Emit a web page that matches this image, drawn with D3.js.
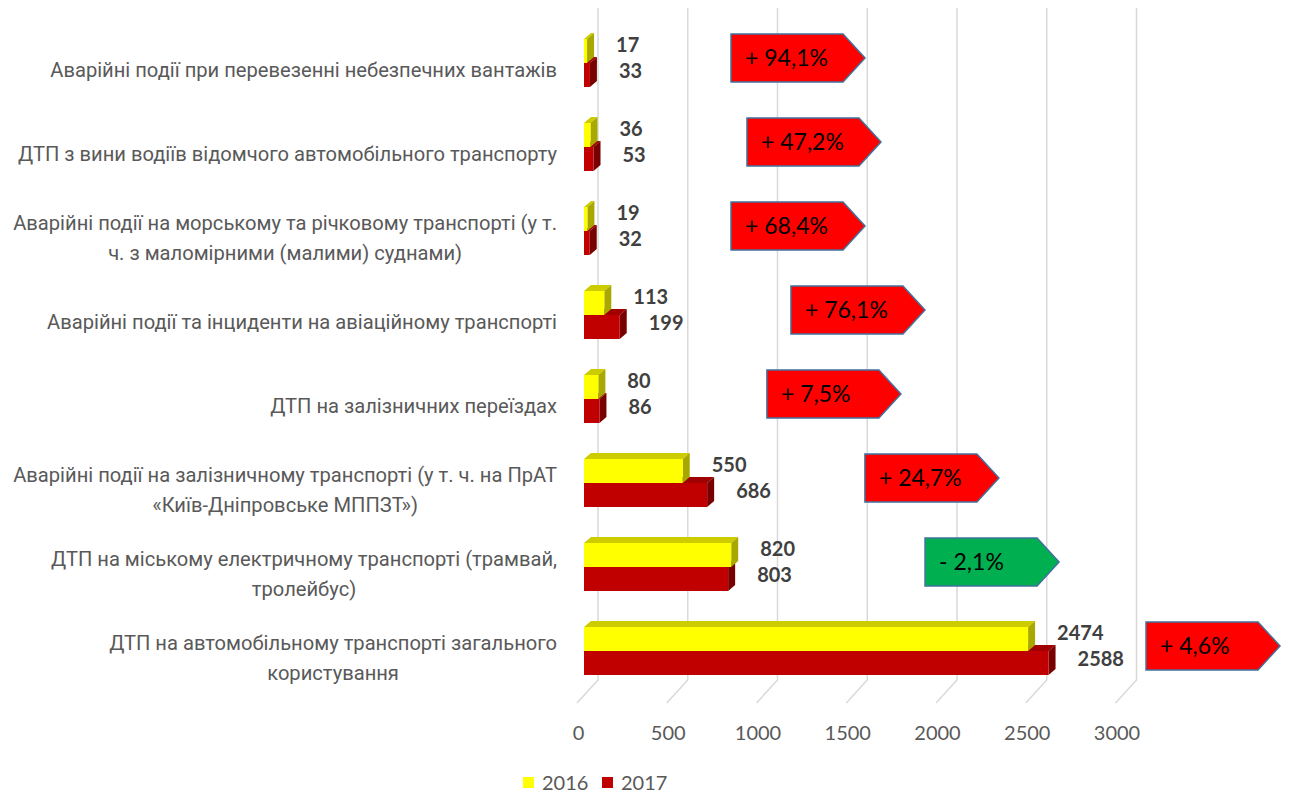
<!DOCTYPE html>
<html><head><meta charset="utf-8">
<script src="https://cdn.jsdelivr.net/npm/d3@7"></script>
<style>body{margin:0;background:#fff}</style>
</head><body><svg id="c" width="1292" height="796"></svg>
<script>
// ---- data ----
const categories = [
  ["Аварійні події при перевезенні небезпечних вантажів"],
  ["ДТП з вини водіїв відомчого автомобільного транспорту"],
  ["Аварійні події на морському та річковому транспорті (у т.", "ч. з маломірними (малими) суднами)"],
  ["Аварійні події та інциденти на авіаційному транспорті"],
  ["ДТП на залізничних переїздах"],
  ["Аварійні події на залізничному транспорті (у т. ч. на ПрАТ", "«Київ-Дніпровське МППЗТ»)"],
  ["ДТП на міському електричному транспорті (трамвай,", "тролейбус)"],
  ["ДТП на автомобільному транспорті загального", "користування"]
];
const values2016 = [17, 36, 19, 113, 80, 550, 820, 2474];
const values2017 = [33, 53, 32, 199, 86, 686, 803, 2588];
const changeLabels = ["+ 94,1%", "+ 47,2%", "+ 68,4%", "+ 76,1%", "+ 7,5%", "+ 24,7%", "- 2,1%", "+ 4,6%"];
const xTicks = [0, 500, 1000, 1500, 2000, 2500, 3000];
const seriesNames = ["2016", "2017"];

// ---- layout (not data) ----
const calloutAt = [819, 908, 819, 1153, 1019, 1565, 1900, 3131]; // left edge of callouts, in axis units
const W = 1292, H = 796;
const dx = 7, dy = 6;          // bar depth
const barH = 24;
const floorDX = -21, floorDY = 23;
const colors = {
  y: {front: "#FFFF00", top: "#CCCC00", side: "#A8A800"},
  r: {front: "#C00000", top: "#A00000", side: "#780000"}
};

const svg = d3.select("#c");
svg.append("rect").attr("width", W).attr("height", H).attr("fill", "#fff");

const x = d3.scaleLinear().domain([0, 3000]).range([584, 584 + 538.5]);
const y = d3.scalePoint().domain(d3.range(categories.length)).range([63, 651]);

// gridlines (back wall + floor)
const grid = svg.append("g");
xTicks.forEach(v => {
  const bx = x(v) + 14;
  grid.append("path")
    .attr("d", `M${bx},8 L${bx},680 L${bx + floorDX},${680 + floorDY}`)
    .attr("fill", "none").attr("stroke", "#D9D9D9").attr("stroke-width", 1.5);
});

// axis labels (front edge)
const xLab = x.copy().range([x.range()[0] - 6, x.range()[1] - 6]);
const ax = svg.append("g").attr("transform", "translate(0,720)")
  .call(d3.axisBottom(xLab).tickValues(xTicks).tickSize(0).tickFormat(d3.format("d")));
ax.select(".domain").remove();
ax.selectAll("text").attr("y", 13).attr("dy", "0.35em")
  .attr("font-family", "Lato, 'Liberation Sans', sans-serif").attr("font-size", 20).attr("fill", "#595959");

// bars
function bar3d(g, y0, y1, xEnd, c) {
  const x0 = x(0);
  g.append("polygon").attr("points", [[x0, y0], [x0 + dx, y0 - dy], [xEnd + dx, y0 - dy], [xEnd, y0]].join(" ")).attr("fill", c.top);
  g.append("polygon").attr("points", [[xEnd, y0], [xEnd + dx, y0 - dy], [xEnd + dx, y1 - dy], [xEnd, y1]].join(" ")).attr("fill", c.side);
  g.append("rect").attr("x", x0).attr("y", y0).attr("width", xEnd - x0).attr("height", y1 - y0).attr("fill", c.front);
}
const bars = svg.append("g");
categories.forEach((_, i) => {
  const b = y(i);
  const g = bars.append("g");
  bar3d(g, b, b + barH, x(values2017[i]), colors.r);
  bar3d(g, b - barH, b, x(values2016[i]), colors.y);
});

// value labels
const vl = svg.append("g").attr("font-family", "Lato, 'Liberation Sans', sans-serif")
  .attr("font-size", 20).attr("font-weight", "bold").attr("fill", "#404040");
categories.forEach((_, i) => {
  const b = y(i);
  vl.append("text").attr("x", x(values2016[i]) + 29).attr("y", b - 18).attr("dy", "0.35em").text(values2016[i]);
  vl.append("text").attr("x", x(values2017[i]) + 29).attr("y", b + 8).attr("dy", "0.35em").text(values2017[i]);
});

// category labels
const cl = svg.append("g").attr("font-family", "Roboto, 'Noto Sans', sans-serif").attr("fill", "#595959");
const probe = cl.append("text").attr("font-size", 20).text(categories[0][0]);
const fs = 20 * 507 / probe.node().getComputedTextLength();
probe.remove();
cl.attr("font-size", fs);
const lineH = 30, rightEdge = 557;
categories.forEach((lines, i) => {
  const g = cl.append("g");
  const ts = lines.map(l => g.append("text").attr("text-anchor", "middle").attr("dy", "0.35em").text(l));
  const maxW = d3.max(ts, t => t.node().getComputedTextLength());
  const cx = rightEdge - maxW / 2;
  const cy = y(i) + 7;
  ts.forEach((t, k) => t.attr("x", cx).attr("y", cy + (k - (lines.length - 1) / 2) * lineH));
});

// callouts
const co = svg.append("g");
changeLabels.forEach((lab, i) => {
  const left = x(calloutAt[i]), cy = y(i) - 5, h = 48, w = 112, tip = 22;
  const neg = values2017[i] < values2016[i];
  co.append("path")
    .attr("d", `M${left},${cy - h / 2} L${left + w},${cy - h / 2} L${left + w + tip},${cy} L${left + w},${cy + h / 2} L${left},${cy + h / 2} Z`)
    .attr("fill", neg ? "#00B050" : "#FF0000").attr("stroke", "#41719C").attr("stroke-width", 1.5);
  co.append("text").attr("x", left + 14).attr("y", cy).attr("dy", "0.35em")
    .attr("font-family", "Lato, 'Liberation Sans', sans-serif").attr("font-size", 23).attr("fill", "#000")
    .text(lab);
});

// legend
const lg = svg.append("g").attr("font-family", "Lato, 'Liberation Sans', sans-serif").attr("font-size", 20).attr("fill", "#595959");
const legendX = [523, 602];
seriesNames.forEach((s, k) => {
  lg.append("rect").attr("x", legendX[k]).attr("y", 777).attr("width", 11).attr("height", 11)
    .attr("fill", k === 0 ? colors.y.front : colors.r.front);
  lg.append("text").attr("x", legendX[k] + 19).attr("y", 783).attr("dy", "0.35em").text(s);
});
</script>
</body></html>
